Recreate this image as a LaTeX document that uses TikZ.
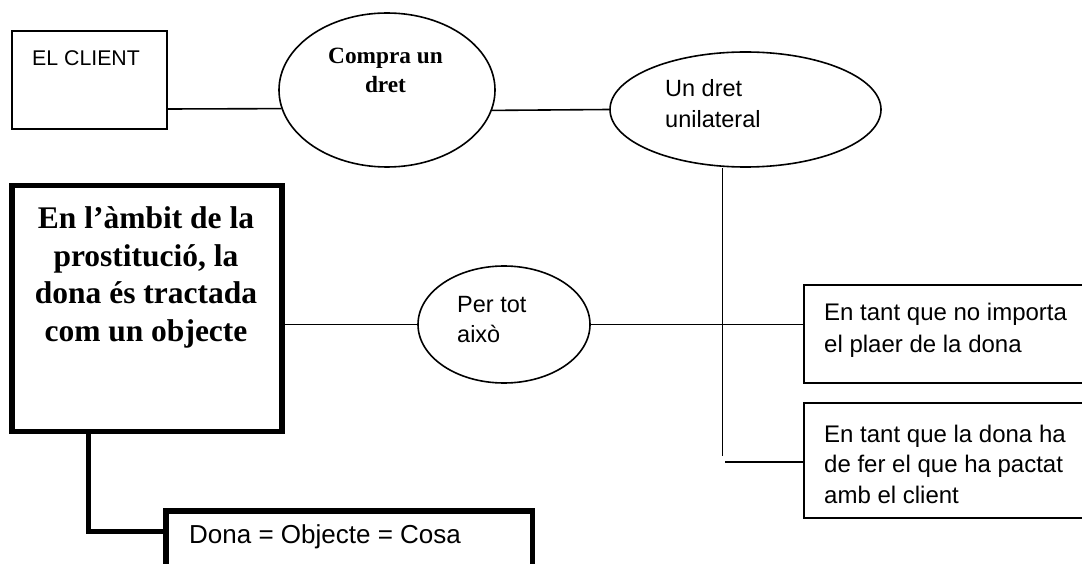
\documentclass[tikz,border=0pt]{standalone}
\usepackage{fontspec}
\setmainfont{Liberation Serif}
\setsansfont{Liberation Sans}
\usetikzlibrary{shapes.geometric}

\tikzset{
  thinbox/.style={draw, line width=1.6pt, inner sep=0pt},
  heavybox/.style={draw, line width=5.5pt, inner sep=0pt},
  oval/.style={draw, ellipse, line width=1.6pt, inner sep=0pt},
  link/.style={line width=1.6pt},
  heavylink/.style={line width=5pt},
  sanstxt/.style={font=\sffamily\fontsize{24}{32}\selectfont, inner sep=0pt, anchor=base west, align=left},
  boldtxt/.style={font=\bfseries\fontsize{23.3}{29}\selectfont, inner sep=0pt, anchor=base, align=center}
}

\begin{document}
\begin{tikzpicture}[x=1pt,y=-1pt]
  \useasboundingbox (0,0) rectangle (1082,564);
  \clip (0,0) rectangle (1082,564);

  % top row: client and the right he buys
  \node[thinbox, minimum width=155pt, minimum height=98pt] (client) at (89.2,80) {};
  \node[sanstxt, font=\sffamily\fontsize{21.3}{27}\selectfont] (client-txt) at (32,66) {EL CLIENT};
  \node[oval, minimum width=216pt, minimum height=154pt] (compra) at (387,90) {};
  \node[boldtxt] (compra-txt) at (385.5,93) {Compra un\\dret};
  \node[oval, minimum width=271pt, minimum height=115pt] (dret) at (745.5,109.5) {};
  \node[sanstxt, font=\sffamily\fontsize{23.5}{31}\selectfont] (dret-txt) at (665,127.7) {Un dret\\unilateral};

  % main statement
  \node[heavybox, minimum width=270pt, minimum height=245.5pt] (ambit) at (147.2,308.5) {};
  \node[boldtxt, font=\bfseries\fontsize{31.5}{37.5}\selectfont] (ambit-txt) at (146,341)
    {En l’àmbit de la\\prostitució, la\\dona és tractada\\com un objecte};
  \node[oval, minimum width=172pt, minimum height=117pt] (pertot) at (504,324.5) {};
  \node[sanstxt, font=\sffamily\fontsize{23.5}{30}\selectfont] (pertot-txt) at (457,342) {Per tot\\això};

  % the two reasons
  \node[thinbox, minimum width=300pt, minimum height=98pt] (plaer) at (954,334) {};
  \node[sanstxt] (plaer-txt) at (824,352.5) {En tant que no importa\\el plaer de la dona};
  \node[thinbox, minimum width=300pt, minimum height=115pt] (pacte) at (954,460.5) {};
  \node[sanstxt, font=\sffamily\fontsize{24}{30.5}\selectfont] (pacte-txt) at (824,503)
    {En tant que la dona ha\\de fer el que ha pactat\\amb el client};

  % conclusion
  \node[heavybox, minimum width=366.5pt, minimum height=100pt] (cosa) at (349,560.75) {};
  \node[sanstxt, font=\sffamily\fontsize{26}{31}\selectfont] (cosa-txt) at (189,543) {Dona = Objecte = Cosa};

  % connectors
  \coordinate (vend) at (722.5,456);
  \coordinate (hstart) at (725,462);
  \draw[link] ([yshift=-29pt]client.east) -- (compra.190.3);
  \draw[link] (compra.349.7) -- (dret.west);
  \draw[link] (dret.south -| vend) -- (vend);
  \draw[link] (hstart) -- (hstart -| pacte.west);
  \draw[link] (ambit.east |- pertot.west) -- (pertot.west);
  \draw[link] (pertot.east) -- (pertot.east -| plaer.west);
  \draw[heavylink] ([xshift=-59pt]ambit.south) |- ([yshift=29.75pt]cosa.west);
\end{tikzpicture}
\end{document}
